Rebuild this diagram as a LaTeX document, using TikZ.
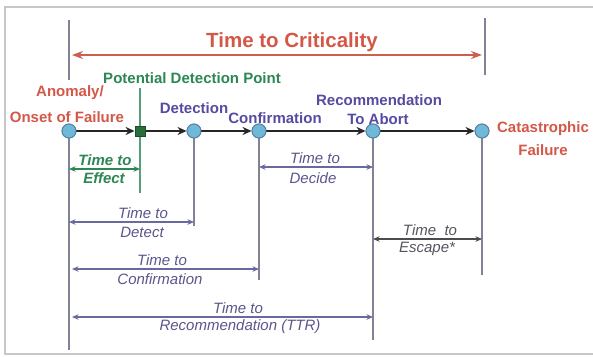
\documentclass[tikz,border=0pt]{standalone}
\usepackage{fontspec}
\setmainfont{Liberation Sans}
\usetikzlibrary{arrows.meta}
\definecolor{redT}{RGB}{212,88,72}
\definecolor{redA}{RGB}{205,95,80}
\definecolor{greenT}{RGB}{45,135,85}
\definecolor{blueT}{RGB}{85,75,160}
\definecolor{dimC}{RGB}{105,105,160}
\definecolor{dimT}{RGB}{90,85,140}
\definecolor{grayT}{RGB}{85,85,95}
\definecolor{dotF}{RGB}{110,185,215}
\definecolor{dotD}{RGB}{90,130,160}
\definecolor{sqF}{RGB}{40,110,60}
\definecolor{vline}{RGB}{130,130,150}
\tikzset{
  dot/.style={circle,fill=dotF,draw=dotD,line width=0.9pt,minimum size=14pt,inner sep=0pt},
  sq/.style={rectangle,fill=sqF,draw=sqF!70!black,minimum size=10.5pt,inner sep=0pt},
  tl/.style={line width=2.8pt,draw=black!85,-{Stealth[length=9pt,width=8pt]}},
  vl/.style={line width=1.1pt,draw=vline},
  dim/.style={line width=1.3pt,draw=dimC,{Stealth[length=6.5pt,width=5.5pt]}-{Stealth[length=6.5pt,width=5.5pt]}},
  lbl/.style={inner sep=0pt,font=\fontsize{15}{16}\selectfont\bfseries},
  dlbl/.style={inner sep=0pt,font=\fontsize{15}{16}\selectfont\itshape,text=dimT},
}
\begin{document}
\begin{tikzpicture}[x=1pt,y=-1pt]
\useasboundingbox[fill=white] (0,0) rectangle (593,356);
\draw[line width=1.4pt,draw=black!22] (594,7) -- (5,7) -- (5,354) -- (594,354);

% timeline nodes
\node[dot] (a) at (69,131) {};
\node[sq] (p) at (140,131) {};
\node[dot] (d) at (194,131) {};
\node[dot] (c) at (259,131) {};
\node[dot] (r) at (373,131) {};
\node[dot] (f) at (482,131) {};

% coordinates for lines
\coordinate (lt1) at (69,20);
\coordinate (lb1) at (69,80);
\coordinate (rt1) at (485,18);
\coordinate (rb1) at (485,75);
\coordinate (ca) at (72,55);
\coordinate (cb) at (482,55);
\coordinate (pt) at (140,88);
\coordinate (aB) at (69,350);
\coordinate (pB) at (140,193);
\coordinate (dB) at (194,226);
\coordinate (cB) at (259,280);
\coordinate (rB) at (373,340);
\coordinate (fB) at (482,275);

% top markers
\draw[vl] (lt1) -- (lb1);
\draw[vl] (rt1) -- (rb1);
\draw[line width=2.6pt,draw=redA,{Stealth[length=11pt,width=8pt]}-{Stealth[length=11pt,width=8pt]}] (ca) -- (cb);
\node[inner sep=0pt,font=\fontsize{20.5}{22}\selectfont\bfseries,text=redT] (crit) at (292,42) {Time to Criticality};

% vertical drop lines
\draw[vl] (a) -- (aB);
\draw[vl,draw=greenT!80] (p) -- (pB);
\draw[vl,draw=greenT!80] (pt) -- (p);
\draw[vl] (d) -- (dB);
\draw[vl] (c) -- (cB);
\draw[vl] (r) -- (rB);
\draw[vl] (f) -- (fB);

% timeline arrows
\draw[tl] (a) -- (p);
\draw[tl] (p) -- (d);
\draw[tl] (d) -- (c);
\draw[tl] (c) -- (r);
\draw[tl] (r) -- (f);
% redraw nodes on top
\node[dot] at (a) {};
\node[sq] at (p) {};
\node[dot] at (d) {};
\node[dot] at (c) {};
\node[dot] at (r) {};
\node[dot] at (f) {};

% event labels
\node[lbl,text=greenT] (pdp) at (192,78) {Potential Detection Point};
\node[lbl,text=redT] (an1) at (70,93) {Anomaly/};
\node[lbl,text=redT] (an2) at (67,117) {Onset of Failure};
\node[lbl,text=blueT] (det) at (194,108) {Detection};
\node[lbl,text=blueT] (con) at (275,118) {Confirmation};
\node[lbl,text=blueT] (rec1) at (379,100) {Recommendation};
\node[lbl,text=blueT] (rec2) at (378,119) {To Abort};
\node[lbl,text=redT] (cat1) at (543,129) {Catastrophic};
\node[lbl,text=redT] (cat2) at (543,150) {Failure};

% dimension coordinates
\coordinate (e1) at (69,169);  \coordinate (e2) at (140,169);
\coordinate (k1) at (259,167); \coordinate (k2) at (373,167);
\coordinate (t1) at (69,222);  \coordinate (t2) at (194,222);
\coordinate (o1) at (72,269);  \coordinate (o2) at (259,269);
\coordinate (q1) at (72,317);  \coordinate (q2) at (373,317);
\coordinate (s1) at (373,239); \coordinate (s2) at (482,239);

\draw[dim,draw=greenT] (e1) -- (e2);
\draw[dim] (k1) -- (k2);
\draw[dim] (t1) -- (t2);
\draw[dim] (o1) -- (o2);
\draw[dim] (q1) -- (q2);
\draw[dim,draw=black!70] (s1) -- (s2);

\node[dlbl,text=greenT,font=\fontsize{15}{16}\selectfont\bfseries\itshape] (ef1) at (105,160) {Time to};
\node[dlbl,text=greenT,font=\fontsize{15}{16}\selectfont\bfseries\itshape] (ef2) at (104,178) {Effect};
\node[dlbl] (dc1) at (315,158) {Time to};
\node[dlbl] (dc2) at (313,178) {Decide};
\node[dlbl] (dt1) at (143,213) {Time to};
\node[dlbl] (dt2) at (142,232) {Detect};
\node[dlbl] (cf1) at (162,260) {Time to};
\node[dlbl] (cf2) at (160,279) {Confirmation};
\node[dlbl] (tr1) at (238,308) {Time to};
\node[dlbl] (tr2) at (240,327) {Recommendation (TTR)};
\node[dlbl,text=grayT] (es1) at (430,230) {Time\ \ to};
\node[dlbl,text=grayT] (es2) at (427,249) {Escape*};
\end{tikzpicture}
\end{document}
